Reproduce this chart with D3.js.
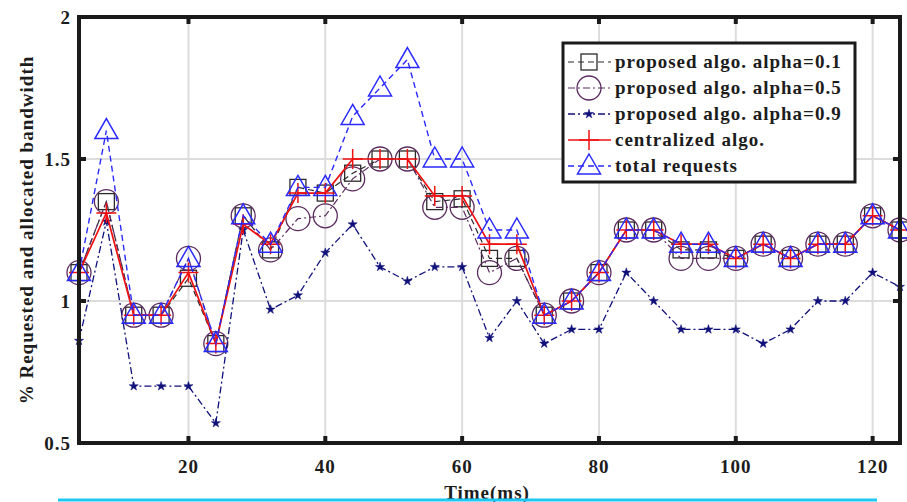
<!DOCTYPE html>
<html>
<head>
<meta charset="utf-8">
<script src="https://cdn.jsdelivr.net/npm/d3@7"></script>
<style>
    body { margin: 0; background: #fff; }
    text { font-family: "Liberation Serif", "Times New Roman", serif; font-weight: bold; fill: #1c1c1c; letter-spacing: 1px; }
</style>
</head>
<body>
<svg id="chart" width="907" height="502"></svg>
<script>
// time axis samples (ms)
const times = [4, 8, 12, 16, 20, 24, 28, 32, 36, 40, 44, 48, 52, 56, 60, 64,
               68, 72, 76, 80, 84, 88, 92, 96, 100, 104, 108, 112, 116, 120, 124];

const alpha01 = [1.1, 1.35, 0.95, 0.95, 1.08, 0.85, 1.3, 1.18, 1.4, 1.38, 1.45, 1.5, 1.5, 1.35, 1.36, 1.15,
                 1.15, 0.95, 1.0, 1.1, 1.25, 1.25, 1.18, 1.18, 1.15, 1.2, 1.15, 1.2, 1.2, 1.3, 1.25];
const alpha05 = [1.1, 1.35, 0.95, 0.95, 1.15, 0.85, 1.3, 1.18, 1.29, 1.3, 1.43, 1.5, 1.5, 1.33, 1.33, 1.1,
                 1.15, 0.95, 1.0, 1.1, 1.25, 1.25, 1.15, 1.15, 1.15, 1.2, 1.15, 1.2, 1.2, 1.3, 1.25];
const alpha09 = [0.86, 1.28, 0.7, 0.7, 0.7, 0.57, 1.25, 0.97, 1.02, 1.17, 1.27, 1.12, 1.07, 1.12, 1.12, 0.87,
                 1.0, 0.85, 0.9, 0.9, 1.1, 1.0, 0.9, 0.9, 0.9, 0.85, 0.9, 1.0, 1.0, 1.1, 1.05];
const centralized = [1.1, 1.31, 0.95, 0.95, 1.1, 0.85, 1.27, 1.2, 1.38, 1.38, 1.5, 1.5, 1.5, 1.37, 1.37, 1.2,
                     1.2, 0.95, 1.0, 1.1, 1.25, 1.25, 1.2, 1.2, 1.15, 1.2, 1.15, 1.2, 1.2, 1.3, 1.25];
const totalReq = [1.1, 1.6, 0.95, 0.95, 1.15, 0.85, 1.3, 1.2, 1.4, 1.4, 1.65, 1.75, 1.85, 1.5, 1.5, 1.25,
                  1.25, 0.95, 1.0, 1.1, 1.25, 1.25, 1.2, 1.2, 1.15, 1.2, 1.15, 1.2, 1.2, 1.3, 1.25];

const xTicks = [20, 40, 60, 80, 100, 120];
const yTicks = [0.5, 1, 1.5, 2];

const seriesNames = ["proposed algo. alpha=0.1", "proposed algo. alpha=0.5",
                     "proposed algo. alpha=0.9", "centralized algo.", "total requests"];

const series = [
    {name: seriesNames[0], values: alpha01, color: "#2b2b2b", dash: "6,4", width: 1.2, marker: "square"},
    {name: seriesNames[1], values: alpha05, color: "#5a2a5e", dash: "7,3,2,3", width: 1.2, marker: "circle"},
    {name: seriesNames[2], values: alpha09, color: "#10107a", dash: "7,3,2,3", width: 1.3, marker: "star"},
    {name: seriesNames[3], values: centralized, color: "#f01010", dash: null, width: 1.7, marker: "plus"},
    {name: seriesNames[4], values: totalReq, color: "#2a2aff", dash: "6,4", width: 1.4, marker: "triangle"}
];

const margin = {left: 79, top: 17, right: 7, bottom: 59};
const width = 907, height = 502;
const svg = d3.select("#chart");

const x = d3.scaleLinear().domain([4, 124]).range([margin.left, width - margin.right]);
const y = d3.scaleLinear().domain([0.5, 2]).range([height - margin.bottom, margin.top]);

// grid
const grid = svg.append("g").attr("class", "grid");
grid.selectAll(".gx")
    .data(xTicks)
    .enter()
    .append("line")
    .attr("x1", d => x(d)).attr("x2", d => x(d))
    .attr("y1", y(0.5)).attr("y2", y(2))
    .attr("stroke", "#dcdcdc").attr("stroke-width", 2);
grid.selectAll(".gy")
    .data(yTicks)
    .enter()
    .append("line")
    .attr("y1", d => y(d)).attr("y2", d => y(d))
    .attr("x1", x(4)).attr("x2", x(124))
    .attr("stroke", "#dcdcdc").attr("stroke-width", 2);

function drawMarker(g, kind, color) {
    switch (kind) {
        case "square":
            g.append("rect").attr("x", -8).attr("y", -8).attr("width", 16).attr("height", 16)
                .attr("fill", "none").attr("stroke", color).attr("stroke-width", 1.3);
            break;
        case "circle":
            g.append("circle").attr("r", 12)
                .attr("fill", "none").attr("stroke", color).attr("stroke-width", 1.3);
            break;
        case "star":
            g.append("path").attr("d", d3.symbol(d3.symbolStar, 26)())
                .attr("fill", color).attr("stroke", color).attr("stroke-width", 0.5);
            break;
        case "plus":
            g.append("path").attr("d", "M-10,0H10M0,-10V10")
                .attr("stroke", color).attr("stroke-width", 1.5).attr("fill", "none");
            break;
        case "triangle":
            g.append("path").attr("d", "M0,-12L11.5,8H-11.5Z")
                .attr("fill", "none").attr("stroke", color).attr("stroke-width", 1.5);
            break;
    }
}

const line = d3.line().x(d => x(d.t)).y(d => y(d.v));

const plot = svg.append("g").attr("class", "plot");
series.forEach(s => {
    const pts = times.map((t, i) => ({t: t, v: s.values[i]}));
    const g = plot.append("g").attr("class", "series");
    g.append("path")
        .datum(pts)
        .attr("d", line)
        .attr("fill", "none")
        .attr("stroke", s.color)
        .attr("stroke-width", s.width)
        .attr("stroke-dasharray", s.dash);
    g.selectAll(".mk")
        .data(pts)
        .enter()
        .append("g")
        .attr("class", "mk")
        .attr("transform", d => "translate(" + x(d.t) + "," + y(d.v) + ")")
        .each(function () { drawMarker(d3.select(this), s.marker, s.color); });
});

// axis box with inward ticks
const axes = svg.append("g").attr("class", "axes");
axes.append("rect")
    .attr("x", x(4)).attr("y", y(2))
    .attr("width", x(124) - x(4)).attr("height", y(0.5) - y(2))
    .attr("fill", "none").attr("stroke", "#1a1a1a").attr("stroke-width", 4);

const tl = 7;
axes.selectAll(".tb")
    .data(xTicks)
    .enter()
    .append("path")
    .attr("d", d => "M" + x(d) + "," + y(0.5) + "v" + (-tl) + "M" + x(d) + "," + y(2) + "v" + tl)
    .attr("stroke", "#1a1a1a").attr("stroke-width", 4);
axes.selectAll(".tl")
    .data(yTicks)
    .enter()
    .append("path")
    .attr("d", d => "M" + x(4) + "," + y(d) + "h" + tl + "M" + x(124) + "," + y(d) + "h" + (-tl))
    .attr("stroke", "#1a1a1a").attr("stroke-width", 4);

axes.selectAll(".xl")
    .data(xTicks)
    .enter()
    .append("text")
    .attr("x", d => x(d))
    .attr("y", y(0.5) + 30)
    .attr("text-anchor", "middle")
    .attr("font-size", 19)
    .text(d => d);

axes.selectAll(".yl")
    .data(yTicks)
    .enter()
    .append("text")
    .attr("x", x(4) - 8)
    .attr("y", d => y(d) + 7)
    .attr("text-anchor", "end")
    .attr("font-size", 19)
    .text(d => d);

svg.append("text")
    .attr("x", 487)
    .attr("y", 499)
    .attr("text-anchor", "middle")
    .attr("font-size", 19)
    .text("Time(ms)");

svg.append("text")
    .attr("transform", "translate(33," + ((y(0.5) + y(2)) / 2) + ") rotate(-90)")
    .attr("text-anchor", "middle")
    .attr("font-size", 19)
    .text("% Requested and allocated bandwidth");

// cyan rule at bottom
svg.append("line")
    .attr("x1", 58).attr("x2", 877)
    .attr("y1", 500).attr("y2", 500)
    .attr("stroke", "#1ec8f5").attr("stroke-width", 3);

// legend
const legend = svg.append("g").attr("class", "legend").attr("transform", "translate(563,43)");
legend.append("rect")
    .attr("width", 292).attr("height", 139)
    .attr("fill", "#fff").attr("stroke", "#1a1a1a").attr("stroke-width", 3);

const rows = legend.selectAll(".row")
    .data(series)
    .enter()
    .append("g")
    .attr("class", "row")
    .attr("transform", (d, i) => "translate(0," + (19 + i * 26) + ")");

rows.append("line")
    .attr("x1", 5).attr("x2", 48)
    .attr("stroke", d => d.color)
    .attr("stroke-width", d => d.width)
    .attr("stroke-dasharray", d => d.dash);
rows.append("g")
    .attr("transform", "translate(26,0)")
    .each(function (d) { drawMarker(d3.select(this), d.marker, d.color); });
rows.append("text")
    .attr("x", 52)
    .attr("y", 6)
    .attr("font-size", 19)
    .text(d => d.name);
</script>
</body>
</html>
